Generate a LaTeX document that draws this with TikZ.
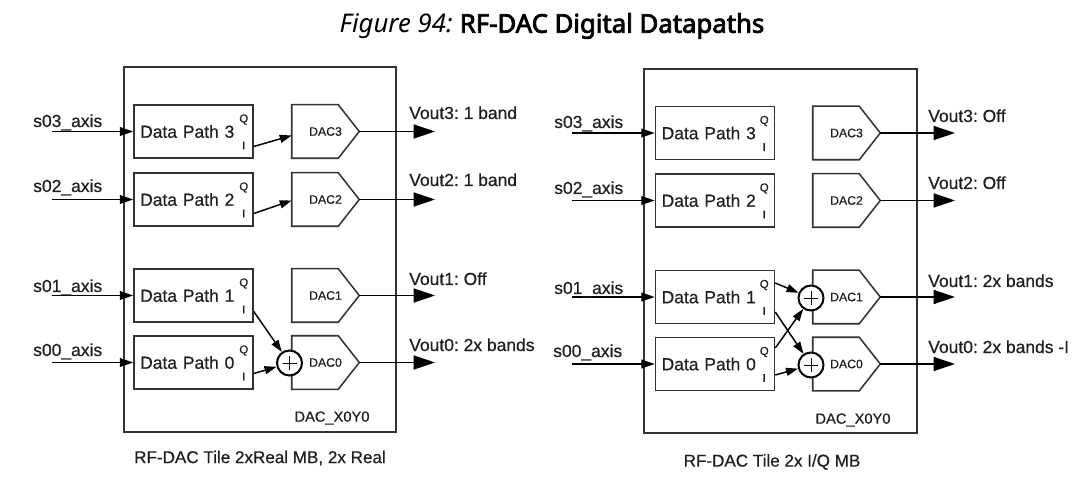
\documentclass[tikz,border=0pt]{standalone}
\usepackage{fontspec}
\setmainfont{Liberation Sans}[FakeBold=0.5]
\newfontfamily\titlefont{Noto Sans}[AutoFakeBold=3]
\usetikzlibrary{arrows.meta,calc}
\definecolor{ln}{HTML}{333333}
\definecolor{tx}{HTML}{1E1E1E}
\frenchspacing
\begin{document}
\begin{tikzpicture}[x=0.75pt,y=-0.75pt,
  boxline/.style={draw=ln,line width=1.15pt},
  tile/.style={boxline,inner sep=0pt},
  dpbox/.style={boxline,minimum width=89.25pt,minimum height=39.75pt,inner sep=0pt,text width=80pt,align=left,font=\fontsize{13.1}{15}\selectfont,text=tx},
  qi/.style={font=\fontsize{8.6}{10}\selectfont,text=tx,inner sep=0pt},
  dacbox/.style={minimum width=50.25pt,minimum height=39.75pt,inner sep=0pt,font=\fontsize{9.2}{11}\selectfont,text=tx},
  sum/.style={circle,draw=black,line width=1.5pt,fill=white,minimum size=18.75pt,inner sep=0pt},
  lbl/.style={font=\fontsize{13.1}{15}\selectfont,text=tx,inner sep=0pt,anchor=base west},
  captext/.style={font=\fontsize{12.8}{15}\selectfont,text=tx,inner sep=0pt},
  tilelbl/.style={font=\fontsize{11}{13}\selectfont,text=tx,inner sep=0pt},
  inarrow/.style={-{Triangle[length=10pt,width=6.5pt]},line width=1.1pt,draw=black},
  smallarrow/.style={-{Triangle[length=9pt,width=6pt]},line width=1.1pt,draw=black},
  outarrow/.style={-{Triangle[length=16pt,width=10.5pt]},line width=1.1pt,draw=black}
]
\useasboundingbox (0,0) rectangle (1091,484);

% title
\node[inner sep=0pt,text=black] (title) at (552,26) {\fontsize{19.3}{22}\selectfont{\titlefont\itshape Figure 94:} {\titlefont\bfseries RF-DAC Digital Datapaths}};

% ---------------- left tile ----------------
\node[tile,minimum width=204pt,minimum height=273.75pt] (aTile) at (260,249.5) {};
\foreach \i/\y in {3/131.5,2/199.5,1/295.5,0/362.5}{
  \node[dpbox] (aD\i) at (193.5,\y) {Data Path \i};
  \node[qi] (aQ\i) at ($(aD\i.east)+(-10,-12)$) {Q};
  \node[qi] (aI\i) at ($(aD\i.east)+(-10,14)$) {I};
  \node[dacbox] (aC\i) at (325.5,\y) {DAC\i};
  \draw[boxline] (aC\i.north west) -- ($(aC\i.north east)+(-21,0)$) -- (aC\i.east) -- ($(aC\i.south east)+(-21,0)$) -- (aC\i.south west) -- cycle;
  \coordinate (aIn\i) at (52,\y);
  \coordinate (aOut\i) at (435,\y);
  \draw[inarrow] (aIn\i) -- (aD\i.west);
  \draw[outarrow] (aC\i.east) -- (aOut\i);
}
\node[sum] (aS0) at (289.5,363) {};
\draw[line width=0.6pt] ($(aS0.center)+(-7,0)$) -- ($(aS0.center)+(7,0)$) ($(aS0.center)+(0,-7)$) -- ($(aS0.center)+(0,7)$);
\draw[smallarrow] ($(aD3.east)+(0,15)$) -- ($(aC3.west)+(0,4)$);
\draw[smallarrow] ($(aD2.east)+(0,14)$) -- ($(aC2.west)+(0,1)$);
\draw[smallarrow] ($(aD1.east)+(0,16)$) -- (aS0);
\draw[smallarrow] ($(aD0.east)+(0,11)$) -- (aS0);

\node[lbl] (aL3) at (33,127) {s03\_axis};
\node[lbl] (aL2) at (33,192) {s02\_axis};
\node[lbl] (aL1) at (33,292) {s01\_axis};
\node[lbl] (aL0) at (33,356) {s00\_axis};
\node[lbl] (aV3) at (409,119) {Vout3: 1 band};
\node[lbl] (aV2) at (409,186) {Vout2: 1 band};
\node[lbl] (aV1) at (409,285) {Vout1: Off};
\node[lbl] (aV0) at (409,351) {Vout0: 2x bands};
\node[tilelbl] (aX) at (332,418) {DAC\_X0Y0};
\node[captext] (aCap) at (260,458) {RF-DAC Tile 2xReal MB, 2x Real};

% ---------------- right tile ----------------
\node[tile,minimum width=204.75pt,minimum height=273pt] (bTile) at (780.5,251) {};
\foreach \i/\y in {3/133,2/200.5,1/297,0/364}{
  \node[dpbox] (bD\i) at (715,\y) {Data Path \i};
  \node[qi] (bQ\i) at ($(bD\i.east)+(-11,-12)$) {Q};
  \node[qi] (bI\i) at ($(bD\i.east)+(-11,14)$) {I};
  \node[dacbox] (bC\i) at (846.5,\y) {DAC\i};
  \draw[boxline] (bC\i.north west) -- ($(bC\i.north east)+(-21,0)$) -- (bC\i.east) -- ($(bC\i.south east)+(-21,0)$) -- (bC\i.south west) -- cycle;
  \coordinate (bIn\i) at (572,\y);
  \coordinate (bOut\i) at (955,\y);
  \draw[inarrow] (bIn\i) -- (bD\i.west);
  \draw[outarrow] (bC\i.east) -- (bOut\i);
}
\foreach \s/\y in {1/298,0/365}{
  \node[sum] (bS\s) at (811,\y) {};
  \draw[line width=0.6pt] ($(bS\s.center)+(-7,0)$) -- ($(bS\s.center)+(7,0)$) ($(bS\s.center)+(0,-7)$) -- ($(bS\s.center)+(0,7)$);
}
\draw[smallarrow] ($(bD1.east)+(0,-14)$) -- (bS1);
\draw[smallarrow] ($(bD1.east)+(0,15)$) -- (bS0);
\draw[smallarrow] ($(bD0.east)+(0,-16)$) -- (bS1);
\draw[smallarrow] ($(bD0.east)+(0,11)$) -- (bS0);

\node[lbl] (bL3) at (554,128) {s03\_axis};
\node[lbl] (bL2) at (554,194) {s02\_axis};
\node[lbl] (bL1) at (554,294) {s01\_axis};
\node[lbl] (bL0) at (553,357) {s00\_axis};
\node[lbl] (bV3) at (928,122) {Vout3: Off};
\node[lbl] (bV2) at (928,189) {Vout2: Off};
\node[lbl] (bV1) at (928,287) {Vout1: 2x bands};
\node[lbl] (bV0) at (928,353) {Vout0: 2x bands -I};
\node[tilelbl] (bX) at (853,420) {DAC\_X0Y0};
\node[captext] (bCap) at (772,462) {RF-DAC Tile 2x I/Q MB};
\end{tikzpicture}
\end{document}
